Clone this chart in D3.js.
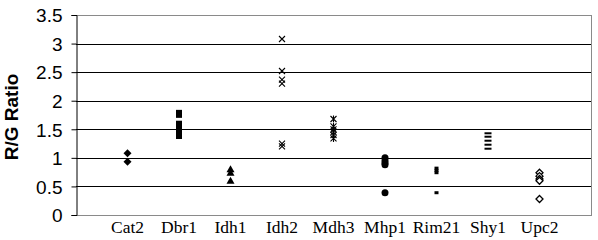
<!DOCTYPE html>
<html>
<head>
<meta charset="utf-8">
<script src="https://cdn.jsdelivr.net/npm/d3@7"></script>
<style>
body{margin:0;background:#fff;}
</style>
</head>
<body>
<div id="chart"></div>
<script>
const WIDTH = 598;
const HEIGHT = 240;

const genes = ["Cat2","Dbr1","Idh1","Idh2","Mdh3","Mhp1","Rim21","Shy1","Upc2"];
const cat2 = [1.08, 0.93];
const dbr1 = [1.77, 1.58, 1.52, 1.4];
const idh1 = [0.8, 0.74, 0.6];
const idh2 = [3.08, 2.52, 2.37, 2.3, 1.25, 1.2];
const mdh3 = [1.68, 1.55, 1.5, 1.45, 1.4, 1.34];
const mhp1 = [1.0, 0.95, 0.91, 0.88, 0.39];
const rim21 = [0.82, 0.78, 0.74, 0.39];
const shy1 = [1.43, 1.37, 1.3, 1.23, 1.16];
const upc2 = [0.74, 0.68, 0.63, 0.6, 0.28];
const yTicks = [0, 0.5, 1, 1.5, 2, 2.5, 3, 3.5];

const seriesValues = [cat2, dbr1, idh1, idh2, mdh3, mhp1, rim21, shy1, upc2];
const markers = ["diamond","square","triangle","times","asterisk","circle","dash","wideDash","openDiamond"];

function setup(){
    let svg = d3.select("#chart")
        .append("svg")
        .attr("width",WIDTH)
        .attr("height",HEIGHT);

    let left = 76, right = 591, top = 15, bottom = 215;

    let x = d3.scalePoint()
        .domain(genes)
        .range([left,right])
        .padding(1);
    let y = d3.scaleLinear()
        .domain([0,3.5])
        .range([bottom,top]);

    // gridlines
    svg.append("g")
        .selectAll("line")
        .data(yTicks.slice(1))
        .enter()
        .append("line")
        .attr("x1",left)
        .attr("x2",right)
        .attr("y1",d=>Math.round(y(d))+0.5)
        .attr("y2",d=>Math.round(y(d))+0.5)
        .style("stroke",d=>d===3.5?"#8a8a8a":"#000")
        .style("stroke-width",1);

    // right border
    svg.append("line")
        .attr("x1",right+0.5).attr("x2",right+0.5)
        .attr("y1",top).attr("y2",bottom)
        .style("stroke","#8a8a8a");

    // bottom line
    svg.append("line")
        .attr("x1",left).attr("x2",right+1)
        .attr("y1",bottom+0.5).attr("y2",bottom+0.5)
        .style("stroke","#8a8a8a");

    // y axis
    let yAxis = svg.append("g")
        .attr("transform",`translate(${left+0.5},0)`)
        .call(d3.axisLeft(y).tickValues(yTicks).tickSize(5).tickPadding(9)
            .tickFormat(d=>String(d)));
    yAxis.select(".domain").attr("stroke","#000");
    yAxis.selectAll(".tick line").attr("stroke","#000");
    yAxis.selectAll("text")
        .style("font-family","Liberation Sans, Arial, sans-serif")
        .style("font-size","19px")
        .attr("fill","#000")
        .attr("dy","0.36em");

    // x labels
    svg.append("g")
        .selectAll("text")
        .data(genes)
        .enter()
        .append("text")
        .attr("x",d=>x(d))
        .attr("y",233)
        .attr("text-anchor","middle")
        .style("font-family","Liberation Serif, Times New Roman, serif")
        .style("font-size","17.5px")
        .text(d=>d);

    // y title
    svg.append("text")
        .attr("transform","translate(18,117) rotate(-90)")
        .attr("text-anchor","middle")
        .style("font-family","Liberation Sans, Arial, sans-serif")
        .style("font-weight","bold")
        .style("font-size","19px")
        .text("R/G Ratio");

    // points
    let points = [];
    genes.forEach((g,i)=>{
        seriesValues[i].forEach(v=>points.push({gene:g,value:v,marker:markers[i]}));
    });

    let pts = svg.append("g")
        .selectAll("g")
        .data(points)
        .enter()
        .append("g")
        .attr("transform",d=>`translate(${x(d.gene)},${y(d.value)})`);

    pts.each(function(d){
        let g = d3.select(this);
        if(d.marker==="diamond"){
            g.append("path").attr("d","M0,-4L4,0L0,4L-4,0Z").attr("fill","#000");
        } else if(d.marker==="square"){
            g.append("rect").attr("x",-3).attr("y",-4).attr("width",6).attr("height",8).attr("fill","#000");
        } else if(d.marker==="triangle"){
            g.append("path").attr("d","M0,-4L4,3L-4,3Z").attr("fill","#000");
        } else if(d.marker==="times"){
            g.append("path").attr("d","M-3,-3L3,3M-3,3L3,-3").attr("stroke","#000").attr("stroke-width",1.1);
        } else if(d.marker==="asterisk"){
            g.append("path").attr("d","M-3,-3L3,3M-3,3L3,-3M0,-3.5L0,3.5").attr("stroke","#000").attr("stroke-width",1.1);
        } else if(d.marker==="circle"){
            g.append("ellipse").attr("rx",3.5).attr("ry",3.5).attr("fill","#000");
        } else if(d.marker==="dash"){
            g.append("rect").attr("x",-2).attr("y",-1.5).attr("width",4).attr("height",3).attr("fill","#000");
        } else if(d.marker==="wideDash"){
            g.append("rect").attr("x",-3.5).attr("y",-1).attr("width",7).attr("height",2).attr("fill","#000");
        } else if(d.marker==="openDiamond"){
            g.append("path").attr("d","M0,-3.5L3.5,0L0,3.5L-3.5,0Z").attr("fill","#fff").attr("stroke","#000").attr("stroke-width",1.3);
        }
    });
}

window.addEventListener("load",setup);
</script>
</body>
</html>
